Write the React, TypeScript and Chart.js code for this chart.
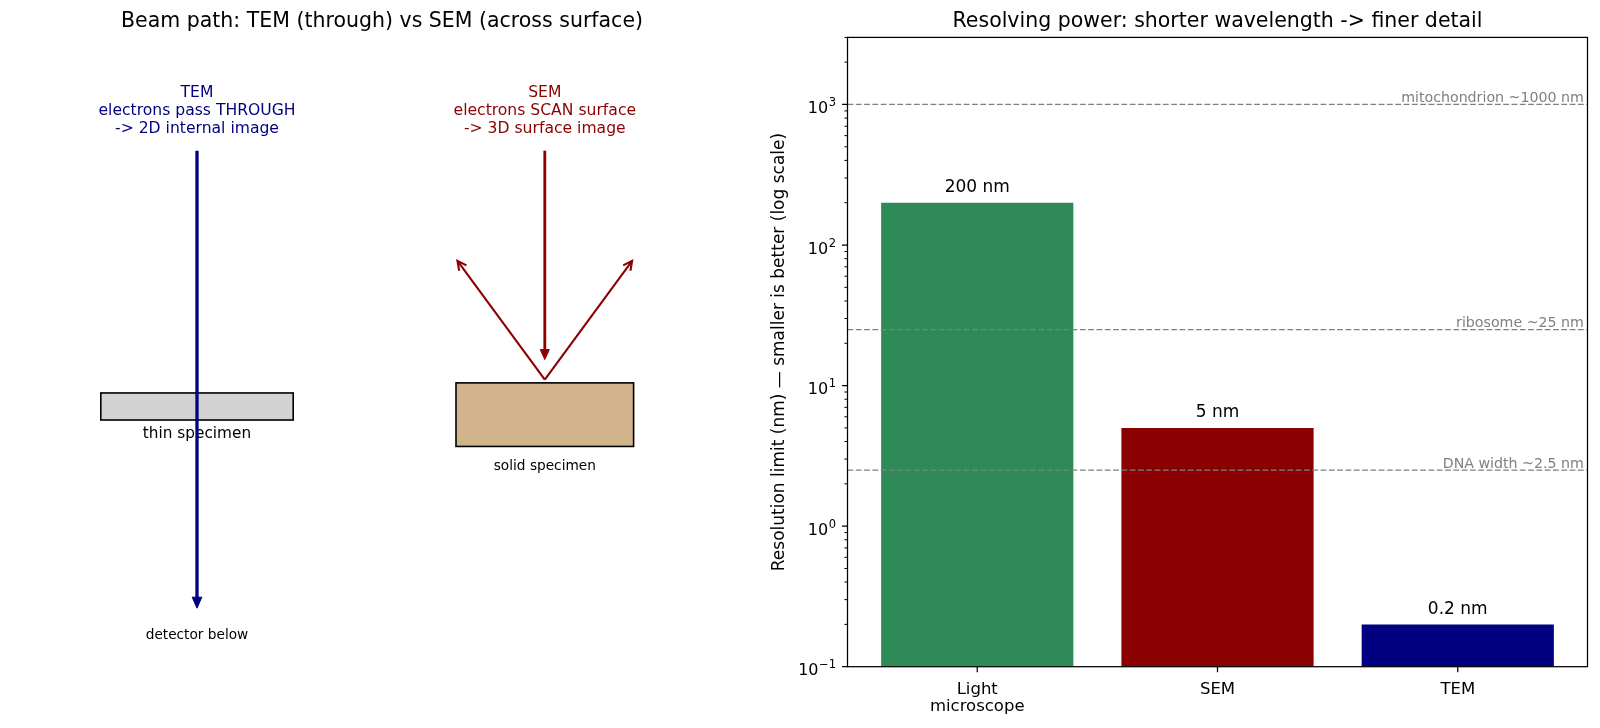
import React, { useEffect, useRef } from 'react';
import { Chart, registerables } from 'chart.js';

Chart.register(...registerables);

const FONT = "'DejaVu Sans', 'Noto Sans', sans-serif";

// ---------- Right panel data ----------
const CATEGORIES: string[][] = [['Light', 'microscope'], ['SEM'], ['TEM']];
const RESOLUTION_NM = [200, 5, 0.2];
const BAR_LABELS = ['200 nm', '5 nm', '0.2 nm'];
const BAR_COLORS = ['#2e8b57', '#8b0000', '#000080'];
const REF_VALUES = [1000, 25, 2.5];
const REF_LABELS = ['mitochondrion ~1000 nm', 'ribosome ~25 nm', 'DNA width ~2.5 nm'];
const Y_MAJOR_TICKS = [0.1, 1, 10, 100, 1000];
const Y_TICK_BASE = '10';
const Y_TICK_EXP = ['\u22121', '0', '1', '2', '3'];
const Y_MINOR_MULT = [2, 3, 4, 5, 6, 7, 8, 9];
const Y_MIN = 0.1;
const Y_MAX = 3000;
const RIGHT_TITLE = 'Resolving power: shorter wavelength -> finer detail';
const Y_TITLE = 'Resolution limit (nm) \u2014 smaller is better (log scale)';

// ---------- Left panel (diagram) content ----------
const LEFT_TITLE = 'Beam path: TEM (through) vs SEM (across surface)';
const TEM_HEADER = ['TEM', 'electrons pass THROUGH', '-> 2D internal image'];
const SEM_HEADER = ['SEM', 'electrons SCAN surface', '-> 3D surface image'];
const TEM_LABELS = ['thin specimen', 'detector below'];
const SEM_LABELS = ['solid specimen'];

// diagram geometry in diagram units (x 0..10, y 0..10)
const G = {
  temX: 2.5,
  semX: 7.2,
  headerY: 8.835,
  temBeam: [8.2, 0.93],
  thinRect: [1.2, 3.92, 3.8, 4.35],
  thinLabelY: 3.7,
  detectorY: 0.49,
  semBeam: [8.2, 4.88],
  reflectStart: [7.2, 4.56],
  reflectTips: [[6.02, 6.45], [8.38, 6.45]],
  solidRect: [6.0, 3.5, 8.4, 4.51],
  solidLabelY: 3.18,
};

function drawArrow(
  ctx: CanvasRenderingContext2D,
  x1: number, y1: number, x2: number, y2: number,
  color: string, lw: number, filled: boolean, headLen: number, headW: number
) {
  const dx = x2 - x1, dy = y2 - y1;
  const len = Math.hypot(dx, dy);
  const ux = dx / len, uy = dy / len;
  const nx = -uy, ny = ux;
  ctx.save();
  ctx.strokeStyle = color;
  ctx.fillStyle = color;
  ctx.lineWidth = lw;
  ctx.lineCap = 'butt';
  ctx.lineJoin = 'miter';
  if (filled) {
    const ex = x2 - ux * headLen * 0.7, ey = y2 - uy * headLen * 0.7;
    ctx.beginPath();
    ctx.moveTo(x1, y1);
    ctx.lineTo(ex, ey);
    ctx.stroke();
    const bx = x2 - ux * headLen, by = y2 - uy * headLen;
    ctx.beginPath();
    ctx.moveTo(x2, y2);
    ctx.lineTo(bx + nx * headW, by + ny * headW);
    ctx.lineTo(bx - nx * headW, by - ny * headW);
    ctx.closePath();
    ctx.lineWidth = 1;
    ctx.fill();
    ctx.stroke();
  } else {
    ctx.beginPath();
    ctx.moveTo(x1, y1);
    ctx.lineTo(x2, y2);
    ctx.stroke();
    const bx = x2 - ux * headLen, by = y2 - uy * headLen;
    ctx.beginPath();
    ctx.moveTo(bx + nx * headW, by + ny * headW);
    ctx.lineTo(x2, y2);
    ctx.lineTo(bx - nx * headW, by - ny * headW);
    ctx.stroke();
  }
  ctx.restore();
}

const leftPlugin = {
  id: 'leftDiagram',
  afterDraw(chart: any) {
    const { ctx, chartArea: a, scales } = chart;
    const px = (v: number) => scales.x.getPixelForValue(v);
    const py = (v: number) => scales.y.getPixelForValue(v);
    ctx.save();
    // title
    ctx.fillStyle = '#000';
    ctx.font = `20.5px ${FONT}`;
    ctx.textAlign = 'center';
    ctx.textBaseline = 'middle';
    ctx.fillText(LEFT_TITLE, (a.left + a.right) / 2, 22);

    // headers
    ctx.font = `15.6px ${FONT}`;
    const drawHeader = (lines: string[], x: number, color: string) => {
      ctx.fillStyle = color;
      const cy = py(G.headerY);
      lines.forEach((t, i) => ctx.fillText(t, px(x), cy + (i - 1) * 18));
    };
    drawHeader(TEM_HEADER, G.temX, '#000080');
    drawHeader(SEM_HEADER, G.semX, '#8b0000');

    // thin specimen
    const [tx1, ty1, tx2, ty2] = G.thinRect;
    ctx.fillStyle = '#d3d3d3';
    ctx.strokeStyle = '#000';
    ctx.lineWidth = 1.6;
    ctx.fillRect(px(tx1), py(ty2), px(tx2) - px(tx1), py(ty1) - py(ty2));
    ctx.strokeRect(px(tx1), py(ty2), px(tx2) - px(tx1), py(ty1) - py(ty2));
    ctx.fillStyle = '#000';
    ctx.font = `15.3px ${FONT}`;
    ctx.fillText(TEM_LABELS[0], px(G.temX), py(G.thinLabelY));
    ctx.font = `13.7px ${FONT}`;
    ctx.fillText(TEM_LABELS[1], px(G.temX), py(G.detectorY));

    // solid specimen
    const [sx1, sy1, sx2, sy2] = G.solidRect;
    ctx.fillStyle = '#d2b48c';
    ctx.fillRect(px(sx1), py(sy2), px(sx2) - px(sx1), py(sy1) - py(sy2));
    ctx.strokeRect(px(sx1), py(sy2), px(sx2) - px(sx1), py(sy1) - py(sy2));
    ctx.fillStyle = '#000';
    ctx.font = `13.7px ${FONT}`;
    ctx.fillText(SEM_LABELS[0], px(G.semX), py(G.solidLabelY));
    ctx.restore();

    // arrows
    drawArrow(ctx, px(G.temX), py(G.temBeam[0]), px(G.temX), py(G.temBeam[1]), '#000080', 3.3, true, 11, 4.8);
    drawArrow(ctx, px(G.semX), py(G.semBeam[0]), px(G.semX), py(G.semBeam[1]), '#8b0000', 2.8, true, 10, 4.5);
    G.reflectTips.forEach(([x, y]) => {
      drawArrow(ctx, px(G.reflectStart[0]), py(G.reflectStart[1]), px(x), py(y), '#8b0000', 2.1, false, 9, 4.5);
    });
  },
};

const rightPlugin = {
  id: 'rightDecor',
  afterDatasetsDraw(chart: any) {
    const { ctx, chartArea: a, scales } = chart;
    const x = scales.x, y = scales.y;
    ctx.save();
    // reference lines
    ctx.strokeStyle = '#808080';
    ctx.lineWidth = 1.3;
    ctx.setLineDash([5.8, 2.5]);
    REF_VALUES.forEach((v) => {
      const p = y.getPixelForValue(v);
      ctx.beginPath();
      ctx.moveTo(a.left, p);
      ctx.lineTo(a.right, p);
      ctx.stroke();
    });
    ctx.setLineDash([]);
    ctx.fillStyle = '#808080';
    ctx.font = `14.2px ${FONT}`;
    ctx.textAlign = 'right';
    ctx.textBaseline = 'alphabetic';
    REF_VALUES.forEach((v, i) => {
      const p = y.getPixelForValue(v);
      ctx.fillText(REF_LABELS[i], x.getPixelForValue(2.525), p - 2.5);
    });
    // bar value labels
    ctx.fillStyle = '#000';
    ctx.font = `17px ${FONT}`;
    ctx.textAlign = 'center';
    ctx.textBaseline = 'bottom';
    const meta = chart.getDatasetMeta(0);
    meta.data.forEach((bar: any, i: number) => {
      ctx.fillText(BAR_LABELS[i], bar.x, y.getPixelForValue(RESOLUTION_NM[i] * 1.15) + 2);
    });
    ctx.restore();
  },
  afterDraw(chart: any) {
    const { ctx, chartArea: a, scales } = chart;
    const x = scales.x, y = scales.y;
    ctx.save();
    ctx.strokeStyle = '#000';
    ctx.lineWidth = 1.25;
    ctx.strokeRect(a.left, a.top, a.right - a.left, a.bottom - a.top);
    // major y ticks + labels with superscript exponent
    ctx.beginPath();
    Y_MAJOR_TICKS.forEach((v) => {
      const p = y.getPixelForValue(v);
      ctx.moveTo(a.left, p);
      ctx.lineTo(a.left - 5.5, p);
    });
    ctx.stroke();
    ctx.fillStyle = '#000';
    ctx.textAlign = 'left';
    ctx.textBaseline = 'alphabetic';
    Y_MAJOR_TICKS.forEach((v, i) => {
      const p = y.getPixelForValue(v);
      ctx.font = `16px ${FONT}`;
      const wb = ctx.measureText(Y_TICK_BASE).width;
      ctx.font = `11.5px ${FONT}`;
      const we = ctx.measureText(Y_TICK_EXP[i]).width;
      const right = a.left - 11.5;
      const x0 = right - wb - we - 0.5;
      ctx.font = `16px ${FONT}`;
      ctx.fillText(Y_TICK_BASE, x0, p + 8.5);
      ctx.font = `11.5px ${FONT}`;
      ctx.fillText(Y_TICK_EXP[i], x0 + wb + 0.5, p + 1.5);
    });
    // minor y ticks
    ctx.lineWidth = 1;
    ctx.beginPath();
    Y_MAJOR_TICKS.forEach((d) => {
      Y_MINOR_MULT.forEach((m) => {
        const v = d * m;
        if (v > Y_MAX * 1.0001) return;
        const p = y.getPixelForValue(v);
        ctx.moveTo(a.left, p);
        ctx.lineTo(a.left - 3.1, p);
      });
    });
    ctx.stroke();
    // x ticks
    ctx.lineWidth = 1.25;
    ctx.beginPath();
    CATEGORIES.forEach((_, i) => {
      const p = x.getPixelForValue(i);
      ctx.moveTo(p, a.bottom);
      ctx.lineTo(p, a.bottom + 5.5);
    });
    ctx.stroke();
    // title
    ctx.fillStyle = '#000';
    ctx.font = `20.5px ${FONT}`;
    ctx.textAlign = 'center';
    ctx.textBaseline = 'middle';
    ctx.fillText(RIGHT_TITLE, (a.left + a.right) / 2, 22);
    ctx.restore();
  },
};

export default function App() {
  const leftRef = useRef<HTMLCanvasElement>(null);
  const rightRef = useRef<HTMLCanvasElement>(null);

  useEffect(() => {
    const left = new Chart(leftRef.current as HTMLCanvasElement, {
      type: 'scatter',
      data: { datasets: [] },
      options: {
        animation: false,
        responsive: false,
        devicePixelRatio: 1,
        layout: { padding: { left: 12, right: 8, top: 37.4, bottom: 61.3 } },
        plugins: { legend: { display: false }, tooltip: { enabled: false } },
        scales: {
          x: { type: 'linear', min: 0, max: 10, display: false },
          y: { type: 'linear', min: 0, max: 10, display: false },
        },
      },
      plugins: [leftPlugin],
    } as any);

    const right = new Chart(rightRef.current as HTMLCanvasElement, {
      type: 'bar',
      data: {
        datasets: [
          {
            data: RESOLUTION_NM.map((v, i) => ({ x: i, y: v })),
            backgroundColor: BAR_COLORS,
            borderWidth: 0,
            barPercentage: 0.8,
            categoryPercentage: 1.0,
          },
        ],
      },
      options: {
        animation: false,
        responsive: false,
        devicePixelRatio: 1,
        layout: { padding: { left: 0, right: 12.5, top: 37.4, bottom: 0 } },
        plugins: { legend: { display: false }, tooltip: { enabled: false }, title: { display: false } },
        scales: {
          x: {
            type: 'linear',
            min: -0.54,
            max: 2.54,
            offset: false,
            grid: { display: false, drawTicks: false },
            border: { display: false },
            afterBuildTicks: (s: any) => {
              s.ticks = CATEGORIES.map((_, i) => ({ value: i }));
            },
            afterFit: (s: any) => {
              s.height = 61.3;
            },
            ticks: {
              autoSkip: false,
              maxRotation: 0,
              minRotation: 0,
              padding: 14.5,
              color: '#000',
              font: { family: FONT, size: 16.5, lineHeight: 1.05 },
              callback: (v: any) => CATEGORIES[Math.round(Number(v))] ?? '',
            },
          },
          y: {
            type: 'logarithmic',
            min: Y_MIN,
            max: Y_MAX,
            grid: { display: false, drawTicks: false },
            border: { display: false },
            afterBuildTicks: (s: any) => {
              s.ticks = Y_MAJOR_TICKS.map((v) => ({ value: v, major: true }));
            },
            afterFit: (s: any) => {
              s.width = 107.5;
            },
            ticks: { display: false },
            title: {
              display: true,
              text: Y_TITLE,
              color: '#000',
              font: { family: FONT, size: 17 },
              padding: { top: 29.8, bottom: 0 },
            },
          },
        },
      },
      plugins: [rightPlugin],
    } as any);

    return () => {
      left.destroy();
      right.destroy();
    };
  }, []);

  return (
    <div style={{ position: 'absolute', left: 0, top: 0, width: 1600, height: 728, background: '#fff', overflow: 'hidden' }}>
      <canvas ref={leftRef} width={760} height={728} style={{ position: 'absolute', left: 0, top: 0, width: 760, height: 728 }} />
      <canvas ref={rightRef} width={860} height={728} style={{ position: 'absolute', left: 740, top: 0, width: 860, height: 728 }} />
    </div>
  );
}
